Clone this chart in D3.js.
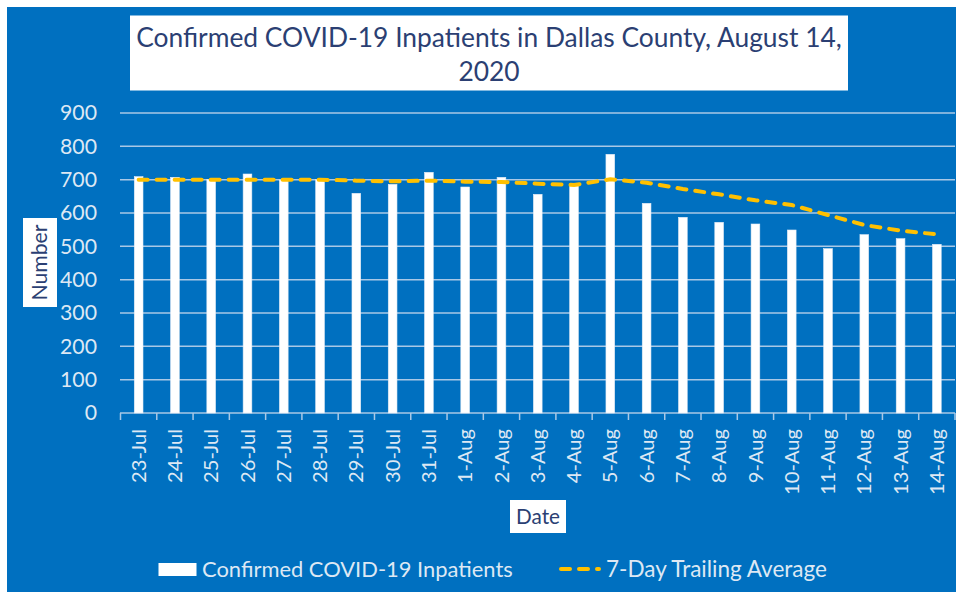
<!DOCTYPE html>
<html>
<head>
<meta charset="utf-8">
<script src="https://cdn.jsdelivr.net/npm/d3@7"></script>
<style>
  body { margin: 0; background: #ffffff; }
  text { font-family: Lato, "Open Sans", sans-serif; }
</style>
</head>
<body>
<div id="chart"></div>
<script>
// data
var dates = ["23-Jul", "24-Jul", "25-Jul", "26-Jul", "27-Jul", "28-Jul", "29-Jul", "30-Jul", "31-Jul",
             "1-Aug", "2-Aug", "3-Aug", "4-Aug", "5-Aug", "6-Aug", "7-Aug", "8-Aug", "9-Aug",
             "10-Aug", "11-Aug", "12-Aug", "13-Aug", "14-Aug"];
var inpatients = [709, 707, 701, 717, 699, 700, 659, 686, 722,
                  678, 707, 656, 682, 776, 629, 587, 572, 567,
                  549, 493, 535, 523, 506];
var trailingAvg = [700, 700, 700, 700, 700, 700, 697, 695, 697,
                   694, 693, 688, 684, 701, 691, 672, 656, 638,
                   624, 594, 564, 547, 536];
var yTicks = [0, 100, 200, 300, 400, 500, 600, 700, 800, 900];

var W = 956, H = 592;
var blue = "#0070C0", grid = "#a9c8e6", tickText = "#dde8f4", navy = "#2b3f73", gold = "#FFC000";

var svg = d3.select("#chart").append("svg")
    .attr("width", W)
    .attr("height", H);

// font size that makes a text fill a given width
function fitSize(str, width) {
    var t = svg.append("text").style("font-size", "20px").text(str);
    var len = t.node().getComputedTextLength();
    t.remove();
    return (20 * width / len) + "px";
}

// background
svg.append("rect").attr("x", 7).attr("y", 7).attr("width", W - 7).attr("height", H - 7).attr("fill", blue);

var x = d3.scaleBand().domain(dates).range([120.5, 955]).padding(0);
var y = d3.scaleLinear().domain([0, 900]).range([413, 113]);

// gridlines
svg.append("g").selectAll("line")
    .data(yTicks.slice(1))
    .enter().append("line")
    .attr("x1", 120).attr("x2", 955)
    .attr("y1", function(d) { return y(d); })
    .attr("y2", function(d) { return y(d); })
    .attr("stroke", grid).attr("stroke-width", 1.5);

// x axis with ticks between categories
var xAxis = svg.append("g");
xAxis.append("line")
    .attr("x1", 120).attr("x2", 955).attr("y1", y(0)).attr("y2", y(0))
    .attr("stroke", grid).attr("stroke-width", 1.5);
xAxis.selectAll(".tk")
    .data(dates.concat(["end"]))
    .enter().append("line")
    .attr("class", "tk")
    .attr("x1", function(d, i) { return i < dates.length ? x(d) : x.range()[1]; })
    .attr("x2", function(d, i) { return i < dates.length ? x(d) : x.range()[1]; })
    .attr("y1", y(0)).attr("y2", y(0) + 7)
    .attr("stroke", grid).attr("stroke-width", 1.5);

// y tick labels
var ySize = fitSize("900", 37);
svg.append("g").selectAll("text")
    .data(yTicks)
    .enter().append("text")
    .attr("x", 97)
    .attr("y", function(d) { return y(d); })
    .attr("dy", "0.35em")
    .attr("text-anchor", "end")
    .attr("fill", tickText)
    .style("font-size", ySize)
    .text(function(d) { return d; });

// x tick labels (rotated)
var xSize = fitSize("23-Jul", 54);
svg.append("g").selectAll("text")
    .data(dates)
    .enter().append("text")
    .attr("transform", function(d) { return "translate(" + (x(d) + x.bandwidth() / 2) + ",429) rotate(-90)"; })
    .attr("dy", "0.35em")
    .attr("text-anchor", "end")
    .attr("fill", tickText)
    .style("font-size", xSize)
    .text(function(d) { return d; });

// bars
var bw = x.bandwidth() * 0.24;
svg.append("g").selectAll("rect")
    .data(inpatients)
    .enter().append("rect")
    .attr("x", function(d, i) { return x(dates[i]) + (x.bandwidth() - bw) / 2; })
    .attr("y", function(d) { return y(d); })
    .attr("width", bw)
    .attr("height", function(d) { return y(0) - y(d); })
    .attr("fill", "#ffffff")
    .attr("stroke", "#e4ecf5").attr("stroke-width", 0.6);

// 7-day trailing average
var line = d3.line()
    .x(function(d, i) { return x(dates[i]) + x.bandwidth() / 2; })
    .y(function(d) { return y(d); });
svg.append("path")
    .datum(trailingAvg)
    .attr("d", line)
    .attr("fill", "none")
    .attr("stroke", gold)
    .attr("stroke-width", 4)
    .attr("stroke-linecap", "round")
    .attr("stroke-dasharray", "9,9");

// title box
var tSize = fitSize("Confirmed COVID-19 Inpatients in Dallas County, August 14,", 706);
svg.append("rect").attr("x", 130).attr("y", 15.5).attr("width", 718).attr("height", 75).attr("fill", "#ffffff");
svg.append("text").attr("x", 489).attr("y", 47).attr("text-anchor", "middle").attr("fill", navy)
    .style("font-size", tSize)
    .text("Confirmed COVID-19 Inpatients in Dallas County, August 14,");
svg.append("text").attr("x", 489).attr("y", 81).attr("text-anchor", "middle").attr("fill", navy)
    .style("font-size", tSize)
    .text("2020");

// axis title boxes
svg.append("rect").attr("x", 23).attr("y", 218).attr("width", 34).attr("height", 89).attr("fill", "#ffffff");
svg.append("text")
    .attr("transform", "translate(40,262.5) rotate(-90)")
    .attr("dy", "0.35em")
    .attr("text-anchor", "middle")
    .attr("fill", navy)
    .style("font-size", fitSize("Number", 76))
    .text("Number");

svg.append("rect").attr("x", 510).attr("y", 500).attr("width", 56).attr("height", 33).attr("fill", "#ffffff");
svg.append("text")
    .attr("x", 538).attr("y", 517)
    .attr("dy", "0.35em")
    .attr("text-anchor", "middle")
    .attr("fill", navy)
    .style("font-size", fitSize("Date", 44))
    .text("Date");

// legend
svg.append("rect").attr("x", 158.5).attr("y", 563).attr("width", 38).attr("height", 13).attr("fill", "#ffffff");
svg.append("text").attr("x", 202).attr("y", 569.5).attr("dy", "0.35em").attr("fill", tickText)
    .style("font-size", fitSize("Confirmed COVID-19 Inpatients", 311))
    .text("Confirmed COVID-19 Inpatients");
svg.append("line")
    .attr("x1", 561).attr("x2", 599).attr("y1", 569).attr("y2", 569)
    .attr("stroke", gold).attr("stroke-width", 4)
    .attr("stroke-linecap", "round")
    .attr("stroke-dasharray", "9,9");
svg.append("text").attr("x", 606).attr("y", 569.5).attr("dy", "0.35em").attr("fill", tickText)
    .style("font-size", fitSize("7-Day Trailing Average", 221))
    .text("7-Day Trailing Average");
</script>
</body>
</html>
